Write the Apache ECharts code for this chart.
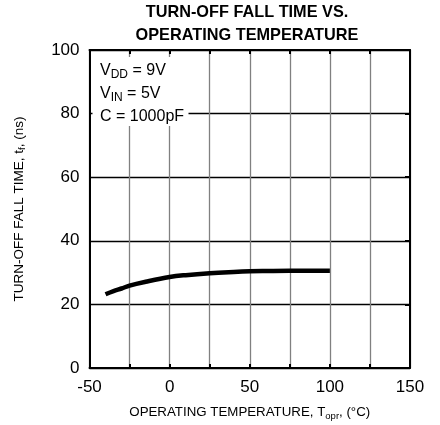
<!DOCTYPE html>
<html><head><meta charset="utf-8">
<script src="https://cdn.jsdelivr.net/npm/echarts@6/dist/echarts.min.js"></script>
<style>html,body{margin:0;padding:0;background:#fff}#c{width:440px;height:425px}</style>
</head><body><div id="c"></div>
<script>
const temps = [-40, -35, -30, -25, -15, 0, 10, 25, 40, 50, 60, 75, 90, 100];
const fallTime = [23.2, 24.2, 25.0, 25.9, 27.1, 28.6, 29.2, 29.8, 30.2, 30.4, 30.5, 30.6, 30.6, 30.6];
const xTicks = [-50, 0, 50, 100, 150];
const yTicks = [0, 20, 40, 60, 80, 100];

const F = 'Liberation Sans, Arial, Helvetica, sans-serif';
const chart = echarts.init(document.getElementById('c'));
const boxRich = {a: {fontSize: 16, fontFamily: F, color: '#000'},
                 s: {fontSize: 12, fontFamily: F, color: '#000', padding: [8,0,0,0]}};
chart.setOption({
  animation: false,
  backgroundColor: '#fff',
  grid: {left: 89.5, right: 30, top: 50, bottom: 57, containLabel: false, outerBoundsMode: 'none'},
  xAxis: [{
    type: 'value', min: -50, max: 150, interval: 25, position: 'bottom',
    axisLine: {show: true, onZero: false, lineStyle: {color: '#000', width: 2}},
    axisTick: {show: true, inside: true, length: 4, lineStyle: {color: '#000', width: 2}},
    splitLine: {show: true, lineStyle: {color: '#808080', width: 1.3}},
    axisLabel: {color: '#000', fontSize: 17, fontFamily: F, margin: 11,
      formatter: v => xTicks.includes(v) ? String(v) : ''},
    name: '{a|OPERATING TEMPERATURE, T}{s|opr}{a|, (°C)}',
    nameLocation: 'middle', nameGap: 36,
    nameTextStyle: {rich: {a: {fontSize: 13.3, fontFamily: F, color: '#000'},
      s: {fontSize: 9.5, fontFamily: F, color: '#000', verticalAlign: 'bottom', padding: [7,0,0,0]}}}
  }, {
    type: 'value', min: -50, max: 150, interval: 25, position: 'top',
    axisLine: {show: true, onZero: false, lineStyle: {color: '#000', width: 2}},
    axisTick: {show: true, inside: true, length: 4, lineStyle: {color: '#000', width: 2}},
    splitLine: {show: false}, axisLabel: {show: false}
  }],
  yAxis: [{
    type: 'value', min: 0, max: 100, interval: 20, position: 'left',
    axisLine: {show: true, onZero: false, lineStyle: {color: '#000', width: 2}},
    axisTick: {show: false},
    splitLine: {show: true, lineStyle: {color: '#000', width: 1.3}},
    axisLabel: {color: '#000', fontSize: 17, fontFamily: F, margin: 10,
      formatter: v => yTicks.includes(v) ? String(v) : ''},
    name: '{a|TURN-OFF FALL TIME, t}{s|f}{a|, (ns)}',
    nameLocation: 'middle', nameGap: 62,
    nameTextStyle: {rich: {a: {fontSize: 13.5, fontFamily: F, color: '#000'},
      s: {fontSize: 9.5, fontFamily: F, color: '#000', verticalAlign: 'bottom', padding: [6,0,0,0]}}}
  }, {
    type: 'value', min: 0, max: 100, interval: 20, position: 'right',
    axisLine: {show: true, onZero: false, lineStyle: {color: '#000', width: 2}},
    axisTick: {show: true, inside: true, length: 5, lineStyle: {color: '#000', width: 2}},
    splitLine: {show: false}, axisLabel: {show: false}
  }],
  series: [{
    type: 'line', smooth: 0.4, showSymbol: false, symbol: 'none',
    data: temps.map((t, i) => [t, fallTime[i]]),
    lineStyle: {color: '#000', width: 4.5, cap: 'butt'}
  }],
  graphic: [
    {type: 'text', x: 247, y: 12, z: 10,
     style: {text: 'TURN-OFF FALL TIME VS.\nOPERATING TEMPERATURE',
       align: 'center', verticalAlign: 'top', fontSize: 16.3, fontWeight: 'bold', fontFamily: F, fill: '#000', lineHeight: 23, y: -11}},
    {type: 'rect', shape: {x: 92.5, y: 57, width: 96, height: 69}, style: {fill: '#fff'}, z: 5},
    {type: 'text', x: 100, y: 71, z: 6,
     style: {rich: boxRich, text: '{a|V}{s|DD}{a| = 9V}', verticalAlign: 'middle', fill: '#000'}},
    {type: 'text', x: 100, y: 94, z: 6,
     style: {rich: boxRich, text: '{a|V}{s|IN}{a| = 5V}', verticalAlign: 'middle', fill: '#000'}},
    {type: 'text', x: 100, y: 117, z: 6,
     style: {text: 'C = 1000pF', fontSize: 16, fontFamily: F, fill: '#000', verticalAlign: 'middle'}}
  ]
});
</script></body></html>
